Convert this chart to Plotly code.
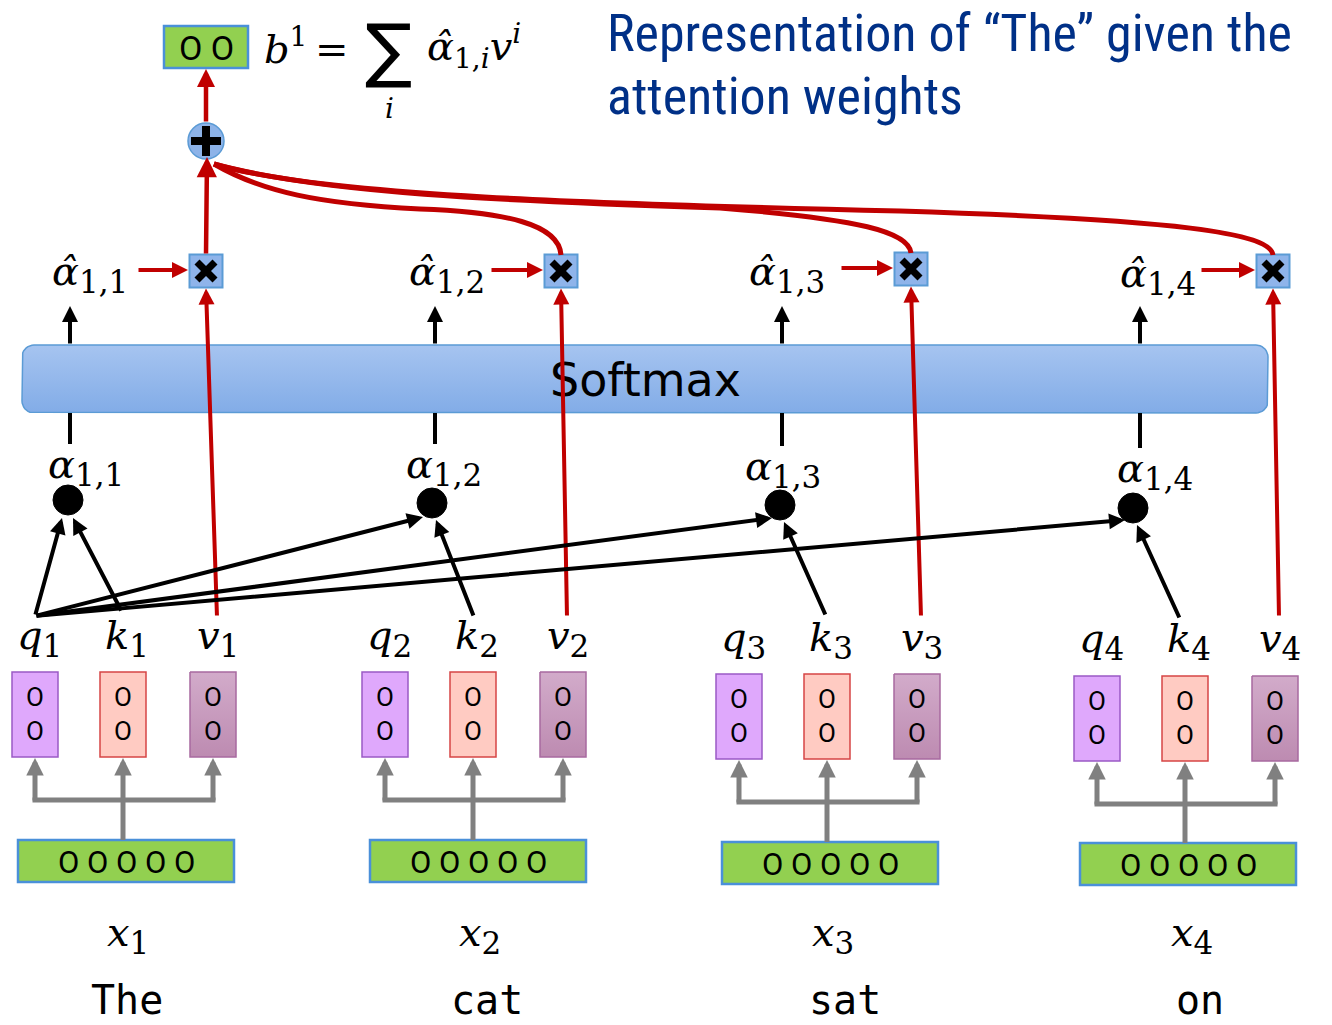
import numpy as np
import plotly.graph_objects as go

# ---------------- data (text content) ----------------
words = ["The", "cat", "sat", "on"]
token_ids = ["1", "2", "3", "4"]
query_names = ["q", "q", "q", "q"]
key_names = ["k", "k", "k", "k"]
value_names = ["v", "v", "v", "v"]
score_pairs = ["1,1", "1,2", "1,3", "1,4"]
vector_glyphs_small = "O<br>O"
vector_glyphs_embed = "O O O O O"
output_glyphs = "O O"
title_lines = ["Representation of \u201cThe\u201d given the", "attention weights"]
softmax_label = "Softmax"

# ---------------- layout geometry (pixels) ----------------
W, H = 1332, 1025
q_left = [12, 362, 716, 1074]
box_top = [672, 672, 674, 676]
BOX_W, BOX_H = 46, 85
K_OFF, V_OFF = 88, 178
emb_left = [18, 370, 722, 1080]
emb_top = [840, 840, 842, 843]
EMB_W, EMB_H = 216, 42
BRANCH_Y = [800, 800, 802, 804]
label_y = [638, 638, 640, 641]
xlab_x = [128, 480, 833, 1192]
word_x = [127, 487, 845, 1200]
dot_c = [(68, 500), (432, 503), (780, 505), (1133, 508)]
DOT_R = 15
q_heads = [(62, 518), (423, 517), (772, 518), (1125, 520)]
k_heads = [(73, 518), (436, 520), (784, 522), (1137, 525)]
alpha_x = [86, 444, 783, 1155]
alpha_y = [467, 467, 469, 471]
stem_x = [70, 435, 782, 1140]
ahat_x = [90, 447, 787, 1158]
ahat_y = [274, 274, 274, 276]
mult_c = [(206, 271), (561, 271), (911, 269), (1273, 271)]
MULT = 33
red_in_x = [(137, 188), (490, 543), (840, 893), (1200, 1255)]
q_origin = (35, 616)
k_tail = [(122, 612), (474, 617), (826, 616), (1180, 619)]
plus_c = (206, 141)
PLUS_R = 18
out_box = (164, 26, 248, 68)
SM = (22, 345, 1268, 413)
title_y = [33, 96]

RED = "#c00000"
GREY = "#808080"
BLUE_EDGE = "#5b9bd5"
GREEN = "#92d050"
MATH = "DejaVu Serif"
SANS = "Roboto"

fig = go.Figure()
shapes = []
ann = []


def rect(x0, y0, x1, y1, fill, line, lw=1.5):
    shapes.append(dict(type="rect", x0=x0, y0=y0, x1=x1, y1=y1, fillcolor=fill,
                       line=dict(color=line, width=lw), layer="above"))


def line(x0, y0, x1, y1, color, width):
    shapes.append(dict(type="line", x0=x0, y0=y0, x1=x1, y1=y1,
                       line=dict(color=color, width=width), layer="above"))


def arrow(tail, head, color, width, size=0.8):
    ann.append(dict(x=head[0], y=head[1], ax=tail[0], ay=tail[1], xref="x", yref="y",
                    axref="x", ayref="y", text="", showarrow=True, arrowhead=2,
                    arrowsize=size, arrowwidth=width, arrowcolor=color,
                    standoff=0, startstandoff=0))


def text(x, y, s, size, color="black", family=MATH, xanchor="center", yanchor="middle"):
    ann.append(dict(x=x, y=y, xref="x", yref="y", text=s, showarrow=False,
                    font=dict(size=size, color=color, family=family),
                    xanchor=xanchor, yanchor=yanchor))


def sub(s, size=31):
    return f"<sub><span style='font-size:{size}px'>{s}</span></sub>"


# ---------------- softmax bar (gradient, rounded) ----------------
x0, y0, x1, y1 = SM
r = 12
pts = []
for cx, cy, a0 in [(x1 - r, y0 + r, -90), (x1 - r, y1 - r, 0), (x0 + r, y1 - r, 90), (x0 + r, y0 + r, 180)]:
    for a in np.linspace(a0, a0 + 90, 10):
        pts.append((cx + r * np.cos(np.radians(a)), cy + r * np.sin(np.radians(a))))
pts.append(pts[0])
fig.add_trace(go.Scatter(x=[p[0] for p in pts], y=[p[1] for p in pts], mode="lines",
                         fill="toself", line=dict(color=BLUE_EDGE, width=1.5),
                         fillgradient=dict(type="vertical", start=y0, stop=y1,
                                           colorscale=[[0, "#a6c4f0"], [1, "#82ace7"]]),
                         hoverinfo="skip", showlegend=False))
text((x0 + x1) / 2, (y0 + y1) / 2 + 1, softmax_label, 46, family="DejaVu Sans")

# ---------------- per token ----------------
for i in range(4):
    ql = q_left[i]
    kl = ql + K_OFF
    vl = ql + V_OFF
    bt = box_top[i]
    fig.add_trace(go.Scatter(x=[vl, vl + BOX_W, vl + BOX_W, vl, vl], y=[bt, bt, bt + BOX_H, bt + BOX_H, bt],
                             mode="lines", fill="toself", line=dict(color="#a86aa0", width=1.5),
                             fillgradient=dict(type="vertical", start=bt, stop=bt + BOX_H,
                                               colorscale=[[0, "#d2abca"], [1, "#bd8bb1"]]),
                             hoverinfo="skip", showlegend=False))
    rect(ql, bt, ql + BOX_W, bt + BOX_H, "#dfa8fc", "#9b59c5")
    rect(kl, bt, kl + BOX_W, bt + BOX_H, "#ffcbc2", "#d64545")
    for left in (ql, kl, vl):
        text(left + BOX_W / 2, bt + BOX_H / 2 - 1, vector_glyphs_small, 26, family=SANS)
    el, et = emb_left[i], emb_top[i]
    rect(el, et, el + EMB_W, et + EMB_H, GREEN, "#4a90d9", 2.5)
    text(el + EMB_W / 2, et + EMB_H / 2 + 1, vector_glyphs_embed, 31, family=SANS)
    by = BRANCH_Y[i]
    qc, kc, vc = ql + BOX_W / 2, kl + BOX_W / 2, vl + BOX_W / 2
    line(kc, et, kc, by, GREY, 5)
    line(qc - 2.5, by, vc + 2.5, by, GREY, 5)
    for cx in (qc, kc, vc):
        arrow((cx, by + 2), (cx, bt + BOX_H + 1), GREY, 5, 0.7)
    ly = label_y[i]
    text(qc + 4, ly, f"<i>{query_names[i]}</i>" + sub(token_ids[i]), 40)
    text(kc + 4, ly, f"<i>{key_names[i]}</i>" + sub(token_ids[i]), 40)
    text(vc + 5, ly, f"<i>{value_names[i]}</i>" + sub(token_ids[i]), 40)
    text(xlab_x[i], 935, "<i>x</i>" + sub(token_ids[i]), 40)
    text(word_x[i], 1000, words[i], 40, family="DejaVu Sans Mono")
    dx, dy = dot_c[i]
    shapes.append(dict(type="circle", x0=dx - DOT_R, y0=dy - DOT_R, x1=dx + DOT_R, y1=dy + DOT_R,
                       fillcolor="black", line=dict(color="black", width=1), layer="above"))
    arrow(q_origin, q_heads[i], "black", 4, 0.8)
    arrow(k_tail[i], k_heads[i], "black", 4, 0.8)
    text(alpha_x[i], alpha_y[i], "<i>\u03b1</i>" + sub(score_pairs[i]), 40)
    line(stem_x[i], SM[3], stem_x[i], alpha_y[i] - 23, "black", 4)
    arrow((stem_x[i], SM[1]), (stem_x[i], 306), "black", 4, 0.8)
    text(ahat_x[i], ahat_y[i], "<i>\u03b1\u0302</i>" + sub(score_pairs[i]), 40)
    mx, my = mult_c[i]
    arrow((red_in_x[i][0], my - 1), (red_in_x[i][1], my - 1), RED, 4, 0.8)
    arrow((vc + 4, 617), (mx, my + MULT / 2 + 1), RED, 4, 0.8)
    rect(mx - MULT / 2, my - MULT / 2, mx + MULT / 2, my + MULT / 2, "#8fb4ea", BLUE_EDGE, 2)
    line(mx - 9, my - 9, mx + 9, my + 9, "black", 7)
    line(mx - 9, my + 9, mx + 9, my - 9, "black", 7)

# ---------------- red sums to plus ----------------
px, py = plus_c
curves = [
    "M 561 255 C 559 224, 505 212, 420 209 C 320 204, 262 192, 214 164",
    "M 911 253 C 909 232, 860 219, 720 208 C 500 201, 320 193, 214 164",
    "M 1273 255 C 1270 233, 1180 220, 900 211 C 600 204, 320 196, 214 164",
]
for p in curves:
    shapes.append(dict(type="path", path=p, line=dict(color=RED, width=5), layer="above"))
arrow((206, 255), (207, 157), RED, 4.5, 0.9)

shapes.append(dict(type="circle", x0=px - PLUS_R, y0=py - PLUS_R, x1=px + PLUS_R, y1=py + PLUS_R,
                   fillcolor="#8db3e8", line=dict(color=BLUE_EDGE, width=1.5), layer="above"))
line(px - 15, py, px + 15, py, "black", 8)
line(px, py - 15, px, py + 15, "black", 8)
arrow((206, py - PLUS_R), (206, out_box[3] + 1), RED, 4.5, 0.8)

ox0, oy0, ox1, oy1 = out_box
rect(ox0, oy0, ox1, oy1, GREEN, "#4a90d9", 2.5)
text((ox0 + ox1) / 2, (oy0 + oy1) / 2 + 1, output_glyphs, 34, family=SANS)

# ---------------- formula ----------------
text(262, 46, "<i>b</i><sup><span style='font-size:28px'>1</span></sup>", 40, xanchor="left")
text(332, 49, "=", 40)
text(388, 50, "\u2211", 70, family="DejaVu Sans")
text(389, 108, "<i>i</i>", 28)
text(425, 46, "<i>\u03b1\u0302</i>" + sub("1,<i>i</i>", 28) + "<i>v</i><sup><span style='font-size:28px'><i>i</i></span></sup>", 40, xanchor="left")

# ---------------- title ----------------
TITLE_FONT = "Liberation Sans Narrow, Roboto Condensed, Roboto, sans-serif"
for t, ty in zip(title_lines, title_y):
    text(605, ty, t, 52, color="#003087", family=TITLE_FONT, xanchor="left")

fig.update_layout(
    width=W, height=H, margin=dict(l=0, r=0, t=0, b=0),
    paper_bgcolor="white", plot_bgcolor="white",
    xaxis=dict(range=[0, W], visible=False, fixedrange=True),
    yaxis=dict(range=[H, 0], visible=False, fixedrange=True),
    shapes=shapes, annotations=ann, showlegend=False,
)
fig.write_html("out.html", post_script="document.body.style.margin='0';",
               config={"displayModeBar": False})
